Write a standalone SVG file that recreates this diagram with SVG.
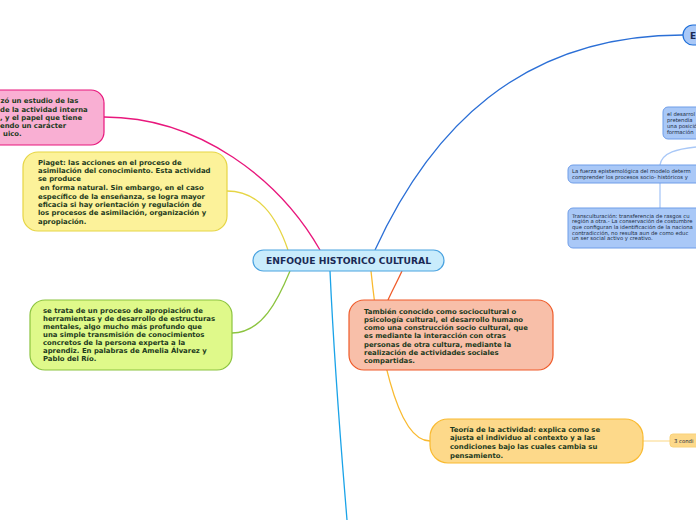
<svg xmlns="http://www.w3.org/2000/svg" width="696" height="520" viewBox="0 0 696 520">
<style>
.t{font-family:"DejaVu Sans",Verdana,sans-serif;font-weight:bold;font-size:6.9px;fill:#1c3a20}
.s{font-family:"DejaVu Sans",Verdana,sans-serif;font-size:5.3px;fill:#1a2a40}
.c{fill:none;stroke-width:1.3}
</style>
<rect width="696" height="520" fill="#ffffff"/>
<g id="connectors">
<path class="c" d="M104,117 C200,117 280,180 320,250" stroke="#e8177c"/>
<path class="c" d="M227,191 C258,191 276,215 288,250" stroke="#e6d545"/>
<path class="c" d="M232,333 C262,333 278,300 290,271" stroke="#8cc43f"/>
<path class="c" d="M375,250 C430,130 520,35 683,35" stroke="#2b6fd6"/>
<path class="c" d="M330,271 C335,380 343,470 347,520" stroke="#1aa3e8"/>
<path class="c" d="M371,271 C378,340 395,441 430,441" stroke="#f9ba30"/>
<path class="c" d="M402,271 C397,282 392,291 388,300" stroke="#ef5b2a"/>
<path class="c" d="M643,441 L670,441" stroke="#fce0a0"/>
<path class="c" d="M696,147 C678,149 662,152 660,165" stroke="#a9c8f7"/>
<path class="c" d="M660,183 L660,208" stroke="#a9c8f7"/>
</g>
<g id="center">
<rect x="253" y="250" width="191" height="21" rx="10.5" fill="#c9ecfc" stroke="#4ba3e0" stroke-width="1.2"/>
<text x="348.5" y="264" text-anchor="middle" font-family="DejaVu Sans,Verdana,sans-serif" font-weight="bold" font-size="9.2" fill="#1a2a55">ENFOQUE HISTORICO CULTURAL</text>
</g>
<g id="pink">
<rect x="-20" y="90" width="124" height="55" rx="13" fill="#f9afd3" stroke="#e8177c" stroke-width="1.2"/>
<text class="t" x="0.5" y="103">zó un estudio de las</text>
<text class="t" x="0" y="111.5">de la actividad interna</text>
<text class="t" x="0" y="120">, y el papel que tiene</text>
<text class="t" x="0" y="128">endo un carácter</text>
<text class="t" x="3" y="136.3">uico.</text>
</g>
<g id="piaget">
<rect x="23" y="152" width="204" height="79" rx="15" fill="#fcf29a" stroke="#e6d545" stroke-width="1.2"/>
<text class="t" x="38" y="164.5">Piaget: las acciones en el proceso de</text>
<text class="t" x="38" y="173">asimilación del conocimiento. Esta actividad</text>
<text class="t" x="38" y="181">se produce</text>
<text class="t" x="40" y="190">en forma natural. Sin embargo, en el caso</text>
<text class="t" x="38" y="198.5">específico de la enseñanza, se logra mayor</text>
<text class="t" x="38" y="207">eficacia si hay orientación y regulación de</text>
<text class="t" x="38" y="215.3">los procesos de asimilación, organización y</text>
<text class="t" x="38" y="223.7">apropiación.</text>
</g>
<g id="green">
<rect x="30" y="300" width="202" height="70" rx="15" fill="#dff98a" stroke="#8cc43f" stroke-width="1.2"/>
<text class="t" x="43" y="312.5">se trata de un proceso de apropiación de</text>
<text class="t" x="43" y="320.5">herramientas y de desarrollo de estructuras</text>
<text class="t" x="43" y="328.5">mentales, algo mucho más profundo que</text>
<text class="t" x="43" y="336.5">una simple transmisión de conocimientos</text>
<text class="t" x="43" y="344.5">concretos de la persona experta a la</text>
<text class="t" x="43" y="352.5">aprendiz. En palabras de Amelia Álvarez y</text>
<text class="t" x="43" y="360.7">Pablo del Río.</text>
</g>
<g id="salmon">
<rect x="349" y="300" width="204" height="70" rx="15" fill="#f8bfa9" stroke="#ef5b2a" stroke-width="1.2"/>
<text class="t" x="364" y="313.5">También conocido como sociocultural o</text>
<text class="t" x="364" y="321.8">psicología cultural, el desarrollo humano</text>
<text class="t" x="364" y="330">como una construcción socio cultural, que</text>
<text class="t" x="364" y="338.3">es mediante la interacción con otras</text>
<text class="t" x="364" y="346.6">personas de otra cultura, mediante la</text>
<text class="t" x="364" y="355">realización de actividades sociales</text>
<text class="t" x="364" y="363">compartidas.</text>
</g>
<g id="orange">
<rect x="430" y="419" width="213" height="44" rx="18" fill="#fdd98a" stroke="#f9ba30" stroke-width="1.2"/>
<text class="t" x="450" y="431.5">Teoría de la actividad: explica como se</text>
<text class="t" x="450" y="440.3">ajusta el individuo al contexto y a las</text>
<text class="t" x="450" y="449">condiciones bajo las cuales cambia su</text>
<text class="t" x="450" y="457.5">pensamiento.</text>
</g>
<g id="condi">
<rect x="670" y="434" width="40" height="13" rx="3" fill="#fdd98a" stroke="#f9d27a" stroke-width="1"/>
<text class="s" x="674" y="442.5">3 condi</text>
</g>
<g id="topright">
<rect x="683" y="25" width="30" height="20" rx="10" fill="#a9c8f7" stroke="#1e6fd9" stroke-width="1.2"/>
<text x="690" y="38.5" font-family="DejaVu Sans,Verdana,sans-serif" font-weight="bold" font-size="9" fill="#1a2a55">E</text>
</g>
<g id="nodeA">
<rect x="663" y="107" width="50" height="32" rx="5" fill="#a9c8f7" stroke="#6f9de8" stroke-width="1"/>
<text class="s" x="667" y="115.5">el desarrol</text>
<text class="s" x="667" y="121.5">pretendía</text>
<text class="s" x="667" y="127.5">una posició</text>
<text class="s" x="667" y="133.5">formación</text>
</g>
<g id="nodeB">
<rect x="568" y="165" width="140" height="18" rx="5" fill="#a9c8f7" stroke="#6f9de8" stroke-width="1"/>
<text class="s" x="572" y="172.5">La fuerza epistemológica del modelo determ</text>
<text class="s" x="572" y="178.5">comprender los procesos socio- históricos y</text>
</g>
<g id="nodeC">
<rect x="568" y="208" width="140" height="40" rx="5" fill="#a9c8f7" stroke="#6f9de8" stroke-width="1"/>
<text class="s" x="572" y="217.5">Transculturación: transferencia de rasgos cu</text>
<text class="s" x="572" y="223.2">región a otra.- La conservación de costumbre</text>
<text class="s" x="572" y="228.9">que configuran la identificación de la naciona</text>
<text class="s" x="572" y="234.6">contradicción, no resulta aun de como educ</text>
<text class="s" x="572" y="240.3">un ser social activo y creativo.</text>
</g>
</svg>
